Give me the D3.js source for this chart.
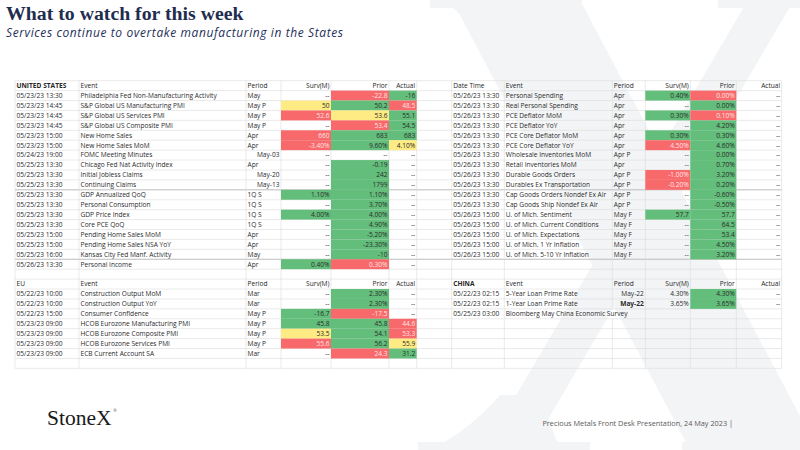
<!DOCTYPE html>
<html>
<head>
<meta charset="utf-8">
<script src="https://cdn.jsdelivr.net/npm/d3@7"></script>
<style>
  body { margin: 0; background: #fff; }
  svg { display: block; }
</style>
</head>
<body>
<div id="chart"></div>
<script>
// ---- United States (left block)
const usDates = ["05/23/23 13:30","05/23/23 14:45","05/23/23 14:45","05/23/23 14:45","05/23/23 15:00","05/23/23 15:00",
  "05/24/23 19:00","05/25/23 13:30","05/25/23 13:30","05/25/23 13:30","05/25/23 13:30","05/25/23 13:30","05/25/23 13:30",
  "05/25/23 13:30","05/25/23 15:00","05/25/23 15:00","05/25/23 16:00","05/26/23 13:30"];
const usEvents = ["Philadelphia Fed Non-Manufacturing Activity","S&P Global US Manufacturing PMI","S&P Global US Services PMI",
  "S&P Global US Composite PMI","New Home Sales","New Home Sales MoM","FOMC Meeting Minutes","Chicago Fed Nat Activity Index",
  "Initial Jobless Claims","Continuing Claims","GDP Annualized QoQ","Personal Consumption","GDP Price Index","Core PCE QoQ",
  "Pending Home Sales MoM","Pending Home Sales NSA YoY","Kansas City Fed Manf. Activity","Personal Income"];
const usPeriods = ["May","May P","May P","May P","Apr","Apr","May-03","Apr","May-20","May-13","1Q S","1Q S","1Q S","1Q S","Apr","Apr","May","Apr"];
const usSurv   = ["--","50","52.6","--","660","-3.40%","--","--","--","--","1.10%","--","4.00%","--","--","--","--","0.40%"];
const usPrior  = ["-22.8","50.2","53.6","53.4","683","9.60%","--","-0.19","242","1799","1.10%","3.70%","4.00%","4.90%","-5.20%","-23.30%","-10","0.30%"];
const usActual = ["-16","48.5","55.1","54.5","683","4.10%","--","--","--","--","--","--","--","--","--","--","--","--"];

// ---- United States continued (right block)
const us2Dates = ["05/26/23 13:30","05/26/23 13:30","05/26/23 13:30","05/26/23 13:30","05/26/23 13:30","05/26/23 13:30",
  "05/26/23 13:30","05/26/23 13:30","05/26/23 13:30","05/26/23 13:30","05/26/23 13:30","05/26/23 13:30",
  "05/26/23 15:00","05/26/23 15:00","05/26/23 15:00","05/26/23 15:00","05/26/23 15:00"];
const us2Events = ["Personal Spending","Real Personal Spending","PCE Deflator MoM","PCE Deflator YoY","PCE Core Deflator MoM",
  "PCE Core Deflator YoY","Wholesale Inventories MoM","Retail Inventories MoM","Durable Goods Orders","Durables Ex Transportation",
  "Cap Goods Orders Nondef Ex Air","Cap Goods Ship Nondef Ex Air","U. of Mich. Sentiment","U. of Mich. Current Conditions",
  "U. of Mich. Expectations","U. of Mich. 1 Yr Inflation","U. of Mich. 5-10 Yr Inflation"];
const us2Periods = ["Apr","Apr","Apr","Apr","Apr","Apr","Apr P","Apr","Apr P","Apr P","Apr P","Apr P","May F","May F","May F","May F","May F"];
const us2Surv   = ["0.40%","--","0.30%","--","0.30%","4.50%","--","--","-1.00%","-0.20%","--","--","57.7","--","--","--","--"];
const us2Prior  = ["0.00%","0.00%","0.10%","4.20%","0.30%","4.60%","0.00%","0.70%","3.20%","0.20%","-0.60%","-0.50%","57.7","64.5","53.4","4.50%","3.20%"];
const us2Actual = ["--","--","--","--","--","--","--","--","--","--","--","--","--","--","--","--","--"];

// ---- EU
const euDates = ["05/22/23 10:00","05/22/23 10:00","05/22/23 15:00","05/23/23 09:00","05/23/23 09:00","05/23/23 09:00","05/23/23 09:00"];
const euEvents = ["Construction Output MoM","Construction Output YoY","Consumer Confidence","HCOB Eurozone Manufacturing PMI",
  "HCOB Eurozone Composite PMI","HCOB Eurozone Services PMI","ECB Current Account SA"];
const euPeriods = ["Mar","Mar","May P","May P","May P","May P","Mar"];
const euSurv   = ["--","--","-16.7","45.8","53.5","55.6","--"];
const euPrior  = ["2.30%","2.30%","-17.5","45.8","54.1","56.2","24.3"];
const euActual = ["--","--","--","44.6","53.3","55.9","31.2"];

// ---- China
const cnDates = ["05/22/23 02:15","05/22/23 02:15","05/25/23 03:00"];
const cnEvents = ["5-Year Loan Prime Rate","1-Year Loan Prime Rate","Bloomberg May China Economic Survey"];
const cnPeriods = ["May-22","May-22",""];
const cnSurv   = ["4.30%","3.65%",""];
const cnPrior  = ["4.30%","3.65%",""];
const cnActual = ["--","--",""];

const colKeys = ["date","event","period","surv","prior","actual"];
const headLabels = ["Event","Period","Surv(M)","Prior","Actual"];

// sheet layout
const W = 800, H = 450;
const leftEdges  = [15, 79, 246, 281, 331, 389, 416.7];
const rightEdges = [451.7, 504.3, 612.3, 645.3, 690.3, 736.3, 781.7];
const nRows = 29;
const y = d3.scaleLinear().domain([0, 1]).range([80.7, 90.62]);
const rowH = y(1) - y(0);

const GREEN = "#63be7b", YELLOW = "#ffeb84", RED = "#f8696b";
const FONT = "'Open Sans', Lato, sans-serif";
const FS = 6.6;

const svg = d3.select("#chart").append("svg")
  .attr("width", W).attr("height", H)
  .style("background", "#fff");

// big faint serif "X" watermark, drawn as a shape
const wm = svg.append("g").attr("fill", "#f3f4f6");
const wmShapes = [
  [[452,0],[580,0],[818,450],[690,450]],          // thick stroke
  [[748,0],[794,0],[530,450],[484,450]],          // thin stroke
  [[430,0],[582,0],[582,8],[430,8]],              // serifs
  [[718,0],[820,0],[820,8],[718,8]],
  [[418,442],[590,442],[590,450],[418,450]],
  [[682,442],[820,442],[820,450],[682,450]]
];
wmShapes.forEach(p => wm.append("path").attr("d", d3.line()(p) + "Z"));
// serif brackets
wm.append("path").attr("d", "M430,450 Q470,430 500,395 L540,395 L560,450 Z");
wm.append("path").attr("d", "M440,0 Q470,15 480,50 L520,0 Z");

// title block
svg.append("text")
  .attr("x", 6).attr("y", 19.5)
  .attr("font-family", "'Liberation Serif', serif")
  .attr("font-weight", "bold")
  .attr("font-size", 19.8)
  .attr("fill", "#1f2d4f")
  .text("What to watch for this week");
svg.append("text")
  .attr("x", 6).attr("y", 36.5)
  .attr("font-family", FONT)
  .attr("font-style", "italic")
  .attr("font-size", 12)
  .attr("textLength", 337)
  .attr("lengthAdjust", "spacing")
  .attr("fill", "#1f2f5a")
  .text("Services continue to overtake manufacturing in the States");

// grid
const grid = svg.append("g");
d3.range(nRows + 1).forEach(r => {
  grid.append("line")
    .attr("x1", leftEdges[0]).attr("x2", rightEdges[6])
    .attr("y1", y(r)).attr("y2", y(r))
    .attr("stroke", (r === 11 || r === 18) ? "#b4b4b4" : "#dcdcdc")
    .attr("stroke-width", (r === 11 || r === 18) ? 0.9 : 0.6);
});
leftEdges.concat(rightEdges).forEach(xv => {
  // the China survey title overflows into the Period cell, hiding that gridline
  const segs = xv === rightEdges[2] ? [[0, 23], [24, nRows]] : [[0, nRows]];
  segs.forEach(s => grid.append("line")
    .attr("x1", xv).attr("x2", xv)
    .attr("y1", y(s[0])).attr("y2", y(s[1]))
    .attr("stroke", "#dcdcdc").attr("stroke-width", 0.6));
});

function parseVal(s) {
  if (!s || s === "--") return null;
  return parseFloat(s.replace("%", ""));
}

// Excel style 3-colour scale applied across each row (red = low, yellow = mid, green = high)
function rowColour(vals) {
  const nums = vals.map(parseVal).filter(v => v !== null);
  if (!nums.length) return () => null;
  const lo = d3.min(nums), hi = d3.max(nums), mid = d3.median(nums);
  const s = d3.scaleLinear().domain([lo, mid, hi]).range([RED, YELLOW, GREEN]).clamp(true);
  return v => {
    if (v === null) return null;
    if (v === hi) return GREEN;
    if (v === lo) return RED;
    return s(v);
  };
}

function drawTable(edges, startRow, title, boldTitle, cols, colourCols) {
  const x = d3.scaleOrdinal(colKeys, edges.slice(0, 6));
  const w = d3.scaleOrdinal(colKeys, edges.slice(1).map((e, i) => e - edges[i]));
  const g = svg.append("g");

  // header row
  const heads = [title].concat(headLabels);
  colKeys.forEach((k, i) => {
    const right = i >= 3;
    g.append("text")
      .attr("x", right ? x(k) + w(k) - 1.5 : x(k) + 1.5)
      .attr("y", y(startRow) + 7.3)
      .attr("text-anchor", right ? "end" : "start")
      .attr("font-family", FONT)
      .attr("font-size", FS)
      .attr("font-weight", i === 0 && boldTitle ? "bold" : "normal")
      .attr("fill", "#262626")
      .text(heads[i]);
  });

  cols.date.forEach((d, i) => {
    const r = startRow + 1 + i;
    const vals = colourCols.map(k => cols[k][i]);
    const colour = rowColour(vals);

    colKeys.forEach(k => {
      const v = cols[k][i];
      const isNum = ["surv", "prior", "actual"].includes(k);
      const fill = colourCols.includes(k) ? colour(parseVal(v)) : null;
      if (fill) {
        g.append("rect")
          .attr("x", x(k)).attr("y", y(r))
          .attr("width", w(k)).attr("height", rowH)
          .attr("fill", fill);
      }
      if (!v) return;
      const dateLike = k === "period" && /^[A-Z][a-z]{2}-\d\d$/.test(v);
      const right = isNum || dateLike;
      g.append("text")
        .attr("x", right ? x(k) + w(k) - 1.5 : x(k) + 1.5)
        .attr("y", y(r) + 7.3)
        .attr("text-anchor", right ? "end" : "start")
        .attr("font-family", FONT)
        .attr("font-size", FS)
        .attr("font-weight", (k === "period" && cols === cnCols && i === 1) ? "bold" : "normal")
        .attr("fill", fill === RED ? "#fde6e6" : "#2b2b2b")
        .text(v);
    });
  });
}

const usCols = {date: usDates, event: usEvents, period: usPeriods, surv: usSurv, prior: usPrior, actual: usActual};
const us2Cols = {date: us2Dates, event: us2Events, period: us2Periods, surv: us2Surv, prior: us2Prior, actual: us2Actual};
const euCols = {date: euDates, event: euEvents, period: euPeriods, surv: euSurv, prior: euPrior, actual: euActual};
const cnCols = {date: cnDates, event: cnEvents, period: cnPeriods, surv: cnSurv, prior: cnPrior, actual: cnActual};

drawTable(leftEdges, 0, "UNITED STATES", true, usCols, ["surv", "prior", "actual"]);
drawTable(rightEdges, 0, "Date Time", false, us2Cols, ["surv", "prior", "actual"]);
drawTable(leftEdges, 20, "EU", false, euCols, ["surv", "prior", "actual"]);
drawTable(rightEdges, 20, "CHINA", true, cnCols, ["prior"]);

// footer
svg.append("text")
  .attr("x", 47).attr("y", 425)
  .attr("font-family", "'Liberation Serif', serif")
  .attr("font-size", 21.5)
  .attr("fill", "#1a1a1a")
  .text("StoneX");
svg.append("text")
  .attr("x", 113.5).attr("y", 412)
  .attr("font-family", FONT)
  .attr("font-size", 3.5)
  .attr("fill", "#1a1a1a")
  .text("®");
svg.append("text")
  .attr("x", 733).attr("y", 426)
  .attr("text-anchor", "end")
  .attr("font-family", FONT)
  .attr("font-size", 7.3)
  .attr("fill", "#595959")
  .text("Precious Metals Front Desk Presentation, 24 May 2023 |");
</script>
</body>
</html>
